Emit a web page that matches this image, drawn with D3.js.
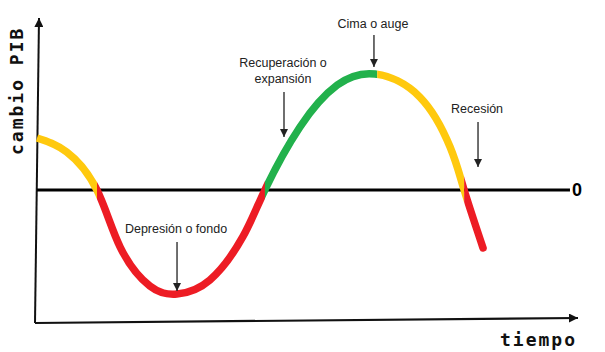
<!DOCTYPE html>
<html><head><meta charset="utf-8">
<script src="https://cdn.jsdelivr.net/npm/d3@7"></script>
<style>body{margin:0;background:#fff}svg{display:block}</style>
</head><body>
<svg id="c" width="605" height="352"></svg>
<script>
// time (0-100) and change in GDP (relative units, 0 = no change)
const time   = [0, 5.5, 11.1, 15.4, 20.9, 25.9, 32.0, 38.1, 42.2, 48.7, 55.6, 62.6, 70.9, 76.5, 79.1, 82.6];
const change = [0.391, 0.286, 0, -0.429, -0.722, -0.782, -0.677, -0.353, 0, 0.474, 0.789, 0.872, 0.699, 0.323, 0, -0.436];
// phase boundaries (time) and colours
const phaseStart = [0, 11.1, 42.2, 63.0, 79.1];
const phaseEnd   = [11.1, 42.2, 63.0, 79.1, 100];
const phaseColor = ["#FFC90E", "#ED1C24", "#22B14C", "#FFC90E", "#ED1C24"];
// annotations: label lines, arrow-tip (time, change), label baseline change
const annLabels = [["Depresión o fondo"], ["Recuperación o", "expansión"], ["Cima o auge"], ["Recesión"]];
const annTipT   = [25.93, 45.74, 62.4, 81.67];
const annTipV   = [-0.759, 0.398, 0.925, 0.173];
const annLabelV = [-0.323, 0.805, 1.218, 0.579];
const annArrowLen = [49, 45, 32, 45];
const xLabel = "tiempo", yLabel = "cambio PIB", zeroLabel = "0";

const svg = d3.select("#c");
const x = d3.scaleLinear().domain([0, 100]).range([37, 577]);
const y = d3.scaleLinear().domain([-1, 1]).range([323, 57]);

const defs = svg.append("defs");
defs.append("marker").attr("id", "ah").attr("viewBox", "0 0 10 10")
  .attr("refX", 10).attr("refY", 5).attr("markerWidth", 10).attr("markerHeight", 9)
  .attr("markerUnits", "userSpaceOnUse").attr("orient", "auto")
  .append("path").attr("d", "M0,0L10,5L0,10z").attr("fill", "#111");
defs.append("marker").attr("id", "ah2").attr("viewBox", "0 0 10 10")
  .attr("refX", 10).attr("refY", 5).attr("markerWidth", 10).attr("markerHeight", 8)
  .attr("markerUnits", "userSpaceOnUse").attr("orient", "auto")
  .append("path").attr("d", "M0,0L10,5L0,10z").attr("fill", "#222");

// axes (hand-drawn feel, slight tilt like the source)
svg.append("line").attr("x1", x(0) - 2).attr("y1", y(-1)).attr("x2", x(0) + 2).attr("y2", 18)
  .attr("stroke", "#111").attr("stroke-width", 2).attr("marker-end", "url(#ah)");
svg.append("line").attr("x1", x(0) - 2).attr("y1", y(-1)).attr("x2", x(100) + 1).attr("y2", y(-1) - 5)
  .attr("stroke", "#111").attr("stroke-width", 2.2).attr("marker-end", "url(#ah)");

// zero line
svg.append("line").attr("x1", x(0)).attr("x2", x(98.7)).attr("y1", y(0)).attr("y2", y(0))
  .attr("stroke", "#000").attr("stroke-width", 3);
svg.append("text").attr("x", x(98.7) + 2).attr("y", y(0) + 6)
  .attr("font-family", "Liberation Sans, Arial, sans-serif").attr("font-weight", "bold")
  .attr("font-size", 18).attr("fill", "#000").text(zeroLabel);

// curve, coloured by phase via clip rects
const pts = time.map((t, i) => [t, change[i]]);
const line = d3.line().x(d => x(d[0])).y(d => y(d[1])).curve(d3.curveNatural);
phaseStart.forEach((s, i) => {
  const x0 = i === 0 ? 0 : x(s);
  const x1 = i === phaseStart.length - 1 ? 605 : x(phaseEnd[i]);
  defs.append("clipPath").attr("id", "cp" + i).append("rect")
    .attr("x", x0).attr("y", 0).attr("width", x1 - x0).attr("height", 352);
  svg.append("path").attr("d", line(pts)).attr("fill", "none")
    .attr("stroke", phaseColor[i]).attr("stroke-width", 7.5)
    .attr("stroke-linecap", i === phaseStart.length - 1 ? "round" : "butt")
    .attr("stroke-linejoin", "round")
    .attr("clip-path", "url(#cp" + i + ")");
});

// annotations
annLabels.forEach((lines, i) => {
  const tx = x(annTipT[i]), ty = y(annTipV[i]);
  svg.append("line").attr("x1", tx).attr("x2", tx).attr("y1", ty - annArrowLen[i]).attr("y2", ty)
    .attr("stroke", "#222").attr("stroke-width", 1.3).attr("marker-end", "url(#ah2)");
  const base = y(annLabelV[i]);
  lines.forEach((l, j) => {
    svg.append("text").attr("x", tx - 1).attr("y", base - (lines.length - 1 - j) * 16)
      .attr("text-anchor", "middle")
      .attr("font-family", "Liberation Sans, Arial, sans-serif").attr("font-size", 12.5)
      .attr("fill", "#222").text(l);
  });
});

// axis titles
svg.append("text").attr("x", 500).attr("y", 346)
  .attr("font-family", "DejaVu Sans Mono, monospace").attr("font-weight", "bold")
  .attr("font-size", 18).attr("letter-spacing", 2).attr("fill", "#111").text(xLabel);
svg.append("text").attr("transform", "translate(23,155) rotate(-90)")
  .attr("font-family", "DejaVu Sans Mono, monospace").attr("font-weight", "bold")
  .attr("font-size", 18).attr("letter-spacing", 2).attr("fill", "#111").text(yLabel);
</script>
</body></html>
